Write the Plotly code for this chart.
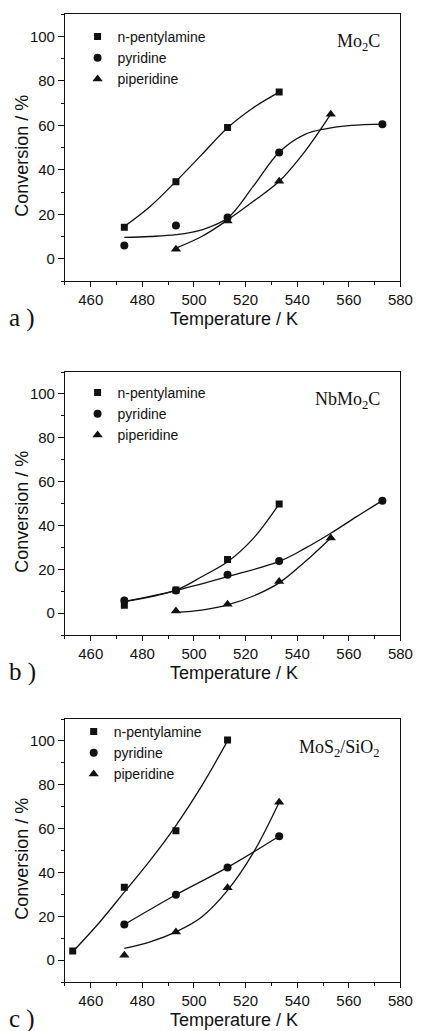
import plotly.graph_objects as go

# ---- measured conversions (symbols) ----
T_amine_a = [473, 493, 513, 533]
X_amine_a = [14.2, 34.6, 59.0, 75.0]
T_pyr_a = [473, 493, 513, 533, 573]
X_pyr_a = [6.0, 15.0, 18.5, 47.8, 60.5]
T_pip_a = [493, 513, 533, 553]
X_pip_a = [4.3, 17.0, 34.8, 65.0]

T_amine_b = [473, 493, 513, 533]
X_amine_b = [3.6, 10.5, 24.5, 49.8]
T_pyr_b = [473, 493, 513, 533, 573]
X_pyr_b = [5.7, 10.3, 17.5, 23.8, 51.3]
T_pip_b = [493, 513, 533, 553]
X_pip_b = [0.9, 4.0, 14.4, 34.3]

T_amine_c = [453, 473, 493, 513]
X_amine_c = [4.1, 33.2, 59.0, 100.4]
T_pyr_c = [473, 493, 513, 533]
X_pyr_c = [16.2, 29.8, 42.3, 56.5]
T_pip_c = [473, 493, 513, 533]
X_pip_c = [2.2, 12.8, 33.0, 72.0]

# ---- fitted curves (solid lines) ----
Tf_amine_a = [473, 483, 493, 503, 513, 523, 533]
Xf_amine_a = [14.5, 23.5, 34.8, 46.8, 58.9, 67.9, 74.9]
Tf_pyr_a = [473, 483, 493, 503, 513, 523, 533, 543, 551, 561, 573]
Xf_pyr_a = [9.6, 10.0, 10.8, 13.0, 18.3, 32.6, 47.9, 55.9, 58.4, 59.9, 60.5]
Tf_pip_a = [493, 503, 513, 523, 533, 543, 553]
Xf_pip_a = [4.8, 10.0, 17.4, 25.8, 34.8, 48.3, 65.0]

Tf_amine_b = [473, 493, 503, 513, 523, 533]
Xf_amine_b = [5.2, 10.5, 16.6, 23.4, 34.1, 49.8]
Tf_pyr_b = [473, 493, 513, 533, 543, 553, 563, 573]
Xf_pyr_b = [5.3, 10.3, 16.6, 23.6, 29.5, 36.4, 44.0, 51.3]
Tf_pip_b = [493, 503, 513, 523, 533, 543, 553]
Xf_pip_b = [0.3, 1.4, 3.7, 7.8, 13.8, 23.4, 34.3]

Tf_amine_c = [453, 463, 473, 483, 493, 503, 513]
Xf_amine_c = [3.8, 16.7, 31.0, 45.5, 61.4, 79.5, 100.0]
Tf_pyr_c = [473, 493, 513, 533]
Xf_pyr_c = [16.2, 29.8, 42.3, 56.5]
Tf_pip_c = [473, 483, 493, 503, 513, 523, 533]
Xf_pip_c = [5.3, 8.3, 12.9, 19.7, 31.8, 49.0, 72.0]

compounds = ["n-pentylamine", "pyridine", "piperidine"]
symbols = ["square", "circle", "triangle-up"]
marker_sizes = [7, 8, 9]
catalysts = ["Mo<sub>2</sub>C", "NbMo<sub>2</sub>C", "MoS<sub>2</sub>/SiO<sub>2</sub>"]
panel_letters = ["a )", "b )", "c )"]

x_ticks = [460, 480, 500, 520, 540, 560, 580]
y_ticks = [0, 20, 40, 60, 80, 100]

points = [
    [(T_amine_a, X_amine_a), (T_pyr_a, X_pyr_a), (T_pip_a, X_pip_a)],
    [(T_amine_b, X_amine_b), (T_pyr_b, X_pyr_b), (T_pip_b, X_pip_b)],
    [(T_amine_c, X_amine_c), (T_pyr_c, X_pyr_c), (T_pip_c, X_pip_c)],
]
fits = [
    [(Tf_amine_a, Xf_amine_a), (Tf_pyr_a, Xf_pyr_a), (Tf_pip_a, Xf_pip_a)],
    [(Tf_amine_b, Xf_amine_b), (Tf_pyr_b, Xf_pyr_b), (Tf_pip_b, Xf_pip_b)],
    [(Tf_amine_c, Xf_amine_c), (Tf_pyr_c, Xf_pyr_c), (Tf_pip_c, Xf_pip_c)],
]

# ---- page geometry (pixels) ----
W, H = 428, 1031
FRAME_L, FRAME_R = 67, 413
FRAME_TOP = [14, 372, 719]
FRAME_BOT = [281, 635, 982]
LEGEND_TOP = [21, 377, 716]
LEGEND_LEFT = [80, 80, 76]

INK = "#111111"
SANS = "Liberation Sans, Arial, sans-serif"
SERIF = "Liberation Serif, Times New Roman, serif"


def fx(px):
    return px / W


def fy(py):
    return 1 - py / H


fig = go.Figure()
layout = dict(
    width=W, height=H, margin=dict(l=0, r=0, t=0, b=0),
    paper_bgcolor="white", plot_bgcolor="white", showlegend=True,
)
annotations = []

for i in range(3):
    sfx = "" if i == 0 else str(i + 1)
    xa, ya = "x" + sfx, "y" + sfx
    leg = "legend" + sfx

    for (tf, xf) in fits[i]:
        fig.add_trace(go.Scatter(
            x=tf, y=xf, xaxis=xa, yaxis=ya, mode="lines",
            line=dict(color=INK, width=1.3, shape="spline", smoothing=1.0),
            showlegend=False, hoverinfo="skip",
        ))
    for k, (t, v) in enumerate(points[i]):
        fig.add_trace(go.Scatter(
            x=t, y=v, xaxis=xa, yaxis=ya, mode="markers", name=compounds[k],
            marker=dict(symbol=symbols[k], size=marker_sizes[k], color=INK,
                        line=dict(width=0)),
            legend=leg, showlegend=True,
        ))

    axis_common = dict(
        showline=True, linecolor=INK, linewidth=1, mirror=True,
        showgrid=False, zeroline=False, ticks="outside", tickcolor=INK,
        tickfont=dict(family=SANS, size=15, color=INK),
    )
    layout["xaxis" + sfx] = dict(
        axis_common, domain=[fx(FRAME_L), fx(FRAME_R)], anchor=ya,
        range=[450, 580], tickvals=x_ticks, ticklen=5, tickwidth=1,
        minor=dict(dtick=10, tick0=450, ticks="outside", ticklen=3,
                   tickcolor=INK, tickwidth=1),
    )
    layout["yaxis" + sfx] = dict(
        axis_common, domain=[fy(FRAME_BOT[i]), fy(FRAME_TOP[i])], anchor=xa,
        range=[-10, 110], tickvals=y_ticks, ticklen=6, tickwidth=1,
        minor=dict(dtick=10, tick0=-10, ticks="outside", ticklen=3,
                   tickcolor=INK, tickwidth=1),
    )
    layout[leg] = dict(
        x=fx(LEGEND_LEFT[i]), y=fy(LEGEND_TOP[i]), xanchor="left", yanchor="top",
        bgcolor="rgba(0,0,0,0)", borderwidth=0,
        font=dict(family=SANS, size=14, color=INK), tracegroupgap=0,
    )

    bot = FRAME_BOT[i]
    mid = (FRAME_TOP[i] + FRAME_BOT[i]) / 2
    annotations += [
        dict(text=catalysts[i], x=fx(394), y=fy(FRAME_TOP[i] + 29),
             xref="paper", yref="paper", xanchor="right", yanchor="middle",
             showarrow=False, font=dict(family=SERIF, size=18, color=INK)),
        dict(text="Temperature / K", x=fx(241), y=fy(bot + 38),
             xref="paper", yref="paper", xanchor="center", yanchor="middle",
             showarrow=False, font=dict(family=SANS, size=18, color=INK)),
        dict(text="Conversion / %", x=fx(22), y=fy(mid + 8), textangle=-90,
             xref="paper", yref="paper", xanchor="center", yanchor="middle",
             showarrow=False, font=dict(family=SANS, size=18, color=INK)),
        dict(text=panel_letters[i], x=fx(7), y=fy(bot + 37),
             xref="paper", yref="paper", xanchor="left", yanchor="middle",
             showarrow=False, font=dict(family=SERIF, size=25, color=INK)),
    ]

layout["annotations"] = annotations
fig.update_layout(**layout)
fig.write_html("out.html")
